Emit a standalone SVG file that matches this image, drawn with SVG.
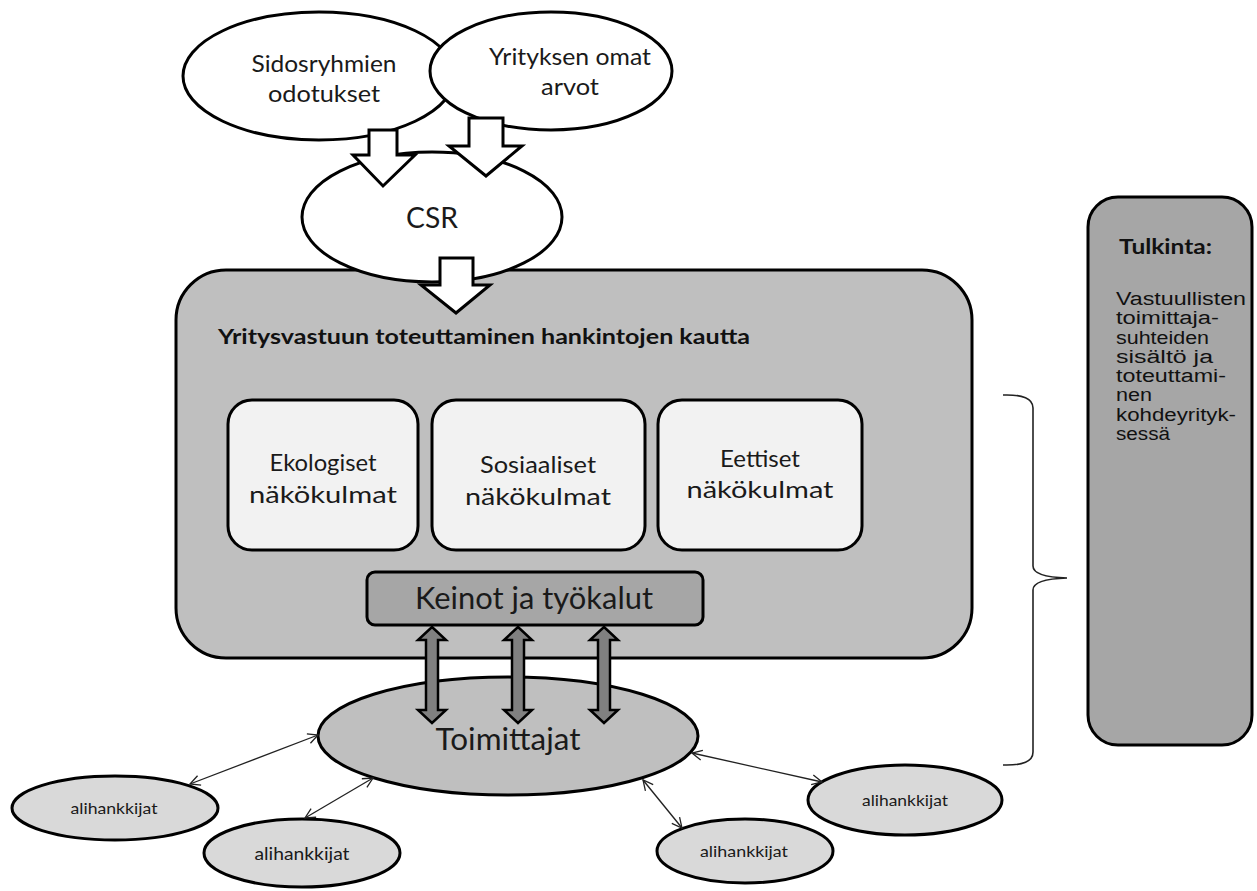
<svg xmlns="http://www.w3.org/2000/svg" width="1257" height="891" viewBox="0 0 1257 891">
<style>
.t{font-family:Lato,"Open Sans","Liberation Sans",sans-serif;fill:#1a1a1a;text-anchor:middle}
.a{font-family:"Liberation Sans",Arial,sans-serif;fill:#111}
.s3{stroke:#000;stroke-width:3}
.blk{fill:#fff;stroke:#000;stroke-width:3;stroke-linejoin:miter}
.dbl{fill:#808080;stroke:#000;stroke-width:2.5;stroke-linejoin:miter}
.thin{stroke:#222;stroke-width:1.3;fill:none;marker-start:url(#oa);marker-end:url(#oa)}
</style>
<defs>
<marker id="oa" viewBox="0 0 12 12" refX="11" refY="6" markerWidth="12" markerHeight="12" markerUnits="userSpaceOnUse" orient="auto-start-reverse">
<path d="M1,1 L11,6 L1,11" fill="none" stroke="#222" stroke-width="1.3"/>
</marker>
</defs>
<rect width="1257" height="891" fill="#fff"/>

<g id="main-box">
<rect x="176" y="270" width="796" height="388" rx="50" fill="#bfbfbf" class="s3"/>
<text x="218" y="344" textLength="532" lengthAdjust="spacingAndGlyphs" style="font-family:Lato,'Open Sans',sans-serif;font-weight:bold;font-size:20px;fill:#111">Yritysvastuun toteuttaminen hankintojen kautta</text>
</g>

<g id="node-ekologiset">
<rect x="228" y="400" width="190" height="150" rx="24" fill="#f2f2f2" class="s3"/>
<text class="t" x="323" y="471" font-size="23" textLength="107" lengthAdjust="spacingAndGlyphs">Ekologiset</text>
<text class="t" x="323" y="503" font-size="23" textLength="148" lengthAdjust="spacingAndGlyphs">näkökulmat</text>
</g>
<g id="node-sosiaaliset">
<rect x="432" y="400" width="213" height="150" rx="24" fill="#f2f2f2" class="s3"/>
<text class="t" x="538" y="473" font-size="23" textLength="116" lengthAdjust="spacingAndGlyphs">Sosiaaliset</text>
<text class="t" x="538" y="505" font-size="23" textLength="146" lengthAdjust="spacingAndGlyphs">näkökulmat</text>
</g>
<g id="node-eettiset">
<rect x="658" y="400" width="204" height="150" rx="24" fill="#f2f2f2" class="s3"/>
<text class="t" x="760" y="467" font-size="23" textLength="80" lengthAdjust="spacingAndGlyphs">Eettiset</text>
<text class="t" x="760" y="498" font-size="23" textLength="147" lengthAdjust="spacingAndGlyphs">näkökulmat</text>
</g>
<g id="node-keinot">
<rect x="367" y="572" width="336" height="53" rx="8" fill="#a6a6a6" class="s3"/>
<text class="t" x="534" y="609" font-size="30" textLength="238" lengthAdjust="spacingAndGlyphs">Keinot ja työkalut</text>
</g>

<g id="node-csr">
<ellipse cx="432" cy="217" rx="130" ry="65" fill="#fff" class="s3"/>
<text class="t" x="432" y="228" font-size="29" textLength="52" lengthAdjust="spacingAndGlyphs">CSR</text>
</g>

<g id="node-sidosryhmien">
<ellipse cx="319" cy="76" rx="136" ry="64" fill="#fff" class="s3"/>
<text class="t" x="324" y="72" font-size="23" textLength="145" lengthAdjust="spacingAndGlyphs">Sidosryhmien</text>
<text class="t" x="324" y="102" font-size="23" textLength="112" lengthAdjust="spacingAndGlyphs">odotukset</text>
</g>
<g id="node-yrityksen">
<ellipse cx="551" cy="71" rx="121" ry="59" fill="#fff" class="s3"/>
<text class="t" x="570" y="65" font-size="23" textLength="162" lengthAdjust="spacingAndGlyphs">Yrityksen omat</text>
<text class="t" x="570" y="95" font-size="23" textLength="58" lengthAdjust="spacingAndGlyphs">arvot</text>
</g>

<g id="node-toimittajat">
<ellipse cx="508" cy="736" rx="190" ry="59" fill="#bfbfbf" class="s3"/>
<text class="t" x="508" y="750" font-size="30" textLength="145" lengthAdjust="spacingAndGlyphs">Toimittajat</text>
</g>

<g id="node-alihankkijat-1">
<ellipse cx="115" cy="808" rx="103" ry="32" fill="#d9d9d9" class="s3"/>
<text class="t" x="114" y="814" font-size="16" textLength="87" lengthAdjust="spacingAndGlyphs">alihankkijat</text>
</g>
<g id="node-alihankkijat-2">
<ellipse cx="302" cy="853" rx="98" ry="34" fill="#d9d9d9" class="s3"/>
<text class="t" x="302" y="860" font-size="17" textLength="95" lengthAdjust="spacingAndGlyphs">alihankkijat</text>
</g>
<g id="node-alihankkijat-3">
<ellipse cx="745" cy="851" rx="88" ry="32" fill="#d9d9d9" class="s3"/>
<text class="t" x="744" y="857" font-size="16" textLength="88" lengthAdjust="spacingAndGlyphs">alihankkijat</text>
</g>
<g id="node-alihankkijat-4">
<ellipse cx="905" cy="800" rx="97" ry="35" fill="#d9d9d9" class="s3"/>
<text class="t" x="905" y="806" font-size="16" textLength="86" lengthAdjust="spacingAndGlyphs">alihankkijat</text>
</g>

<g id="node-tulkinta">
<rect x="1088" y="197" width="164" height="548" rx="30" fill="#a6a6a6" class="s3"/>
<text x="1119" y="254" textLength="93" lengthAdjust="spacingAndGlyphs" style="font-family:Lato,'Liberation Sans',sans-serif;font-weight:bold;font-size:21px;fill:#111">Tulkinta:</text>
<g class="a" font-size="18" lengthAdjust="spacingAndGlyphs">
<text x="1116" y="305" textLength="130" lengthAdjust="spacingAndGlyphs">Vastuullisten</text>
<text x="1116" y="324" textLength="103" lengthAdjust="spacingAndGlyphs">toimittaja-</text>
<text x="1116" y="343.5" textLength="93" lengthAdjust="spacingAndGlyphs">suhteiden</text>
<text x="1116" y="363" textLength="97" lengthAdjust="spacingAndGlyphs">sisältö ja</text>
<text x="1116" y="382" textLength="110" lengthAdjust="spacingAndGlyphs">toteuttami-</text>
<text x="1116" y="401" textLength="36" lengthAdjust="spacingAndGlyphs">nen</text>
<text x="1116" y="420.5" textLength="120" lengthAdjust="spacingAndGlyphs">kohdeyrityk-</text>
<text x="1116" y="440" textLength="54" lengthAdjust="spacingAndGlyphs">sessä</text>
</g>
</g>

<g id="connectors">
<path class="blk" d="M369,130 H397 V155 H415 L383,186 L353,155 H369 Z"/>
<path class="blk" d="M469,118 H503 V146 H522 L486,176 L449,146 H469 Z"/>
<path class="blk" d="M440,258 H473 V285 H490 L456,313 L421,285 H440 Z"/>
<path class="dbl" d="M432,627 L446,640 H438 V710 H446 L432,723 L418,710 H426 V640 H418 Z"/>
<path class="dbl" d="M518,627 L532,640 H524 V710 H532 L518,723 L504,710 H512 V640 H504 Z"/>
<path class="dbl" d="M604,627 L618,640 H610 V710 H618 L604,723 L590,710 H598 V640 H590 Z"/>
<line class="thin" x1="190" y1="784" x2="318" y2="735"/>
<line class="thin" x1="305" y1="818" x2="373" y2="778"/>
<line class="thin" x1="643" y1="780" x2="682" y2="828"/>
<line class="thin" x1="692" y1="753" x2="822" y2="782"/>
<path d="M1003,395 Q1033,394 1033,408 L1033,566 Q1033,577 1067,578 Q1033,579 1033,590 L1033,752 Q1033,766 1003,765" fill="none" stroke="#222" stroke-width="1.6"/>
</g>
</svg>
